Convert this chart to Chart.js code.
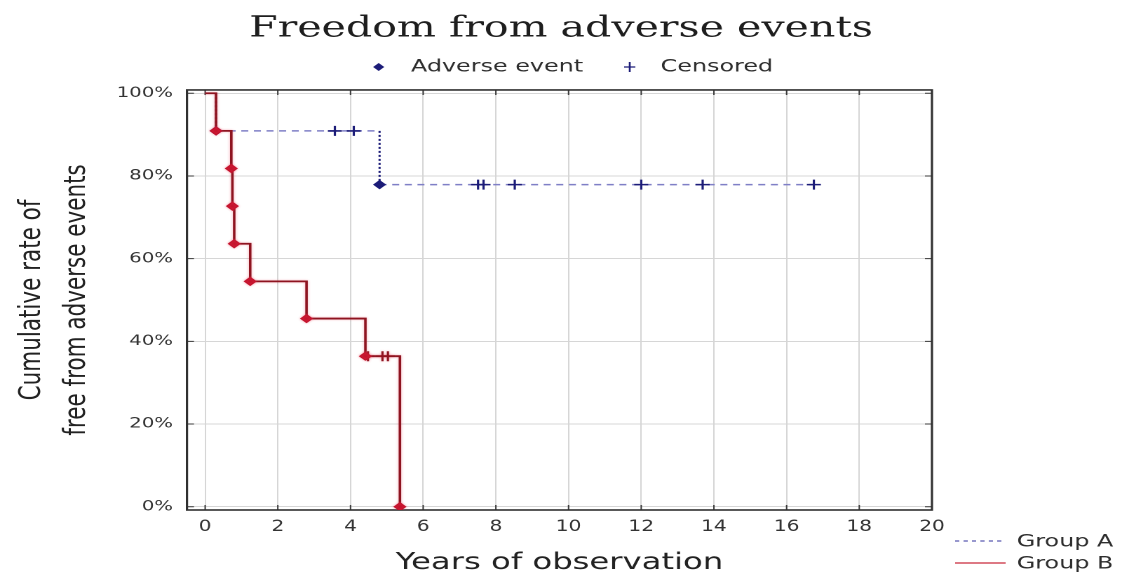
<!DOCTYPE html>
<html>
<head>
<meta charset="utf-8">
<title>Freedom from adverse events</title>
<script src="https://cdn.jsdelivr.net/npm/chart.js"></script>
<style>
  html, body { margin: 0; padding: 0; background: #ffffff; overflow: hidden; }
  #wrap { width: 1122px; height: 579px; overflow: hidden; }
  /* the figure is laid out on an 800px-wide canvas and widened to the page */
  #chart { transform: scaleX(1.4025); transform-origin: 0 0; display: block; }
</style>
</head>
<body>
<div id="wrap"><canvas id="chart" width="800" height="579"></canvas></div>
<script>
// Axis ticks
const xTickValues = [0, 2, 4, 6, 8, 10, 12, 14, 16, 18, 20];
const yTickValues = [0, 20, 40, 60, 80, 100];

// Group A: times of adverse events (years), survival after each event (%), censoring times
const groupAEventTimes = [0.30, 4.80];
const groupASurvival = [90.9, 77.9];
const groupACensored = [3.57, 4.09, 7.51, 7.66, 8.52, 12.00, 13.69, 16.75];

// Group B
const groupBEventTimes = [0.30, 0.72, 0.75, 0.80, 1.24, 2.79, 4.41, 5.36];
const groupBSurvival = [90.9, 81.8, 72.7, 63.6, 54.5, 45.5, 36.4, 0];
const groupBCensored = [4.48, 4.88, 5.03];

const NAVY = '#1c1c78';
const NAVY_LIGHT = '#7f7fc6';
const RED_LINE = '#8e1420';
const RED_MARK = '#c4122c';

// Kaplan-Meier step path: horizontal run to each event, then vertical drop
function kmPath(times, levels, censored) {
  const pts = [{ x: 0, y: 100 }];
  let cur = 100;
  times.forEach((t, i) => {
    pts.push({ x: t, y: cur });
    cur = levels[i];
    pts.push({ x: t, y: cur });
  });
  const end = Math.max(...censored, times[times.length - 1]);
  if (end > times[times.length - 1]) pts.push({ x: end, y: cur });
  return pts;
}
function levelAt(times, levels, t) {
  let v = 100;
  times.forEach((tt, i) => { if (tt <= t) v = levels[i]; });
  return v;
}
const isVertical = c => c.p0.parsed.x === c.p1.parsed.x;

const datasets = [
  {
    label: 'Group A events',
    data: groupAEventTimes.map((t, i) => ({ x: t, y: groupASurvival[i] })),
    showLine: false, pointStyle: 'rectRot', pointRadius: 4,
    pointBackgroundColor: NAVY, pointBorderColor: NAVY, pointBorderWidth: 1, order: 2
  },
  {
    label: 'Group A censored',
    data: groupACensored.map(t => ({ x: t, y: levelAt(groupAEventTimes, groupASurvival, t) })),
    showLine: false, pointStyle: 'cross', pointRadius: 5,
    pointBorderColor: NAVY, pointBorderWidth: 1.6, order: 1
  },
  {
    label: 'Group B events',
    data: groupBEventTimes.map((t, i) => ({ x: t, y: groupBSurvival[i] })),
    showLine: false, pointStyle: 'rectRot', pointRadius: 4,
    pointBackgroundColor: RED_MARK, pointBorderColor: RED_MARK, pointBorderWidth: 1, order: 0
  },
  {
    label: 'Group B censored',
    data: groupBCensored.map(t => ({ x: t, y: levelAt(groupBEventTimes, groupBSurvival, t) })),
    showLine: false, pointStyle: 'cross', pointRadius: 5,
    pointBorderColor: RED_LINE, pointBorderWidth: 1.6, order: 0
  },
  {
    label: 'Group A',
    data: kmPath(groupAEventTimes, groupASurvival, groupACensored),
    borderColor: NAVY_LIGHT, borderWidth: 1.5, borderDash: [5, 4], pointRadius: 0,
    segment: {
      borderColor: c => isVertical(c) ? NAVY : NAVY_LIGHT,
      borderDash: c => isVertical(c) ? [2, 2] : [5, 4]
    },
    order: 4
  },
  {
    label: 'Group B',
    data: kmPath(groupBEventTimes, groupBSurvival, groupBCensored),
    borderColor: RED_LINE, borderWidth: 1.8, pointRadius: 0, order: 3
  }
];

// Frame, inward tick marks, a soft halo on the red curve and the two keys
const framePlugin = {
  id: 'frame',
  beforeDatasetsDraw(chart) {
    const { ctx, chartArea: a, scales } = chart;
    ctx.save();
    ctx.strokeStyle = '#3a3a3a';
    ctx.lineWidth = 1;
    const tl = 5;
    xTickValues.forEach(v => {
      const px = scales.x.getPixelForValue(v);
      ctx.beginPath();
      ctx.moveTo(px, a.bottom); ctx.lineTo(px, a.bottom - tl);
      ctx.moveTo(px, a.top); ctx.lineTo(px, a.top + tl);
      ctx.stroke();
    });
    yTickValues.forEach(v => {
      const py = scales.y.getPixelForValue(v);
      ctx.beginPath();
      ctx.moveTo(a.left, py); ctx.lineTo(a.left + tl, py);
      ctx.moveTo(a.right, py); ctx.lineTo(a.right - tl, py);
      ctx.stroke();
    });
    ctx.lineWidth = 1.6;
    ctx.strokeStyle = '#303030';
    ctx.strokeRect(a.left, a.top, a.right - a.left, a.bottom - a.top);
    ctx.restore();
  },
  beforeDatasetDraw(chart, args) {
    const label = chart.data.datasets[args.index].label;
    if (label.startsWith('Group B')) {
      chart.ctx.save();
      chart.ctx.shadowColor = 'rgba(235, 70, 95, 0.45)';
      chart.ctx.shadowBlur = 4;
    }
  },
  afterDatasetDraw(chart, args) {
    const label = chart.data.datasets[args.index].label;
    if (label.startsWith('Group B')) chart.ctx.restore();
  },
  afterDraw(chart) {
    const { ctx } = chart;
    ctx.save();
    ctx.font = '17px "DejaVu Sans"';
    ctx.textBaseline = 'middle';
    ctx.textAlign = 'left';

    // marker key above the plot
    const ky = 67;
    ctx.fillStyle = NAVY;
    ctx.beginPath();
    ctx.moveTo(270, ky - 4); ctx.lineTo(274, ky); ctx.lineTo(270, ky + 4); ctx.lineTo(266, ky);
    ctx.closePath(); ctx.fill();
    ctx.strokeStyle = NAVY; ctx.lineWidth = 1.3;
    ctx.beginPath();
    ctx.moveTo(449, ky - 5); ctx.lineTo(449, ky + 5);
    ctx.moveTo(445, ky); ctx.lineTo(453, ky);
    ctx.stroke();
    ctx.fillStyle = '#2e2e2e';
    ctx.fillText('Adverse event', 293, ky);
    ctx.fillText('Censored', 471, ky);

    // group key at the lower right
    ctx.lineWidth = 1.3;
    ctx.strokeStyle = '#5a5ab0';
    ctx.setLineDash([3, 3]);
    ctx.beginPath(); ctx.moveTo(681, 541); ctx.lineTo(717, 541); ctx.stroke();
    ctx.setLineDash([]);
    ctx.strokeStyle = '#c8283a';
    ctx.beginPath(); ctx.moveTo(681, 563); ctx.lineTo(717, 563); ctx.stroke();
    ctx.fillText('Group A', 725, 542);
    ctx.fillText('Group B', 725, 564);
    ctx.restore();
  }
};

new Chart(document.getElementById('chart'), {
  type: 'line',
  data: { datasets },
  options: {
    responsive: false,
    animation: false,
    devicePixelRatio: 2,
    layout: { padding: 0 },
    plugins: {
      legend: { display: false },
      tooltip: { enabled: false },
      title: {
        display: true,
        text: 'Freedom from adverse events',
        color: '#1e1e1e',
        font: { family: 'DejaVu Serif', size: 29.3, weight: 'normal', lineHeight: 1.2 },
        padding: { top: 11.5, bottom: 43.3 }
      }
    },
    scales: {
      x: {
        type: 'linear', min: -0.5, max: 20,
        afterBuildTicks: s => { s.ticks = xTickValues.map(v => ({ value: v })); },
        afterFit: s => { s.height = 69; },
        grid: { color: '#d6d6d6', lineWidth: 1, drawTicks: false },
        border: { display: false },
        ticks: {
          color: '#333333', padding: 7, maxRotation: 0, autoSkip: false,
          font: { family: '"Liberation Sans Narrow", "DejaVu Sans Condensed", "Liberation Sans"', size: 16 }
        },
        title: {
          display: true, text: 'Years of observation', color: '#222222',
          font: { family: 'DejaVu Sans', size: 23, lineHeight: 1.2 },
          padding: { top: 0, bottom: 2 }
        }
      },
      y: {
        type: 'linear', min: -0.8, max: 100.8,
        afterBuildTicks: s => { s.ticks = yTickValues.map(v => ({ value: v })); },
        afterFit: s => { s.width = 133.3; },
        grid: { color: '#d6d6d6', lineWidth: 1, drawTicks: false },
        border: { display: false },
        ticks: {
          color: '#333333', padding: 10,
          font: { family: 'DejaVu Sans', size: 14 },
          callback: v => v + '%'
        },
        title: {
          display: true, text: ['Cumulative rate of', 'free from adverse events'], color: '#222222',
          font: { family: 'DejaVu Sans', size: 21.5, lineHeight: 1.48 },
          padding: { top: 7, bottom: 0 }
        }
      },
      y2: {
        type: 'linear', position: 'right', display: true,
        grid: { display: false }, border: { display: false },
        ticks: { display: false },
        afterFit: s => { s.width = 135.5; }
      }
    }
  },
  plugins: [framePlugin]
});
</script>
</body>
</html>
